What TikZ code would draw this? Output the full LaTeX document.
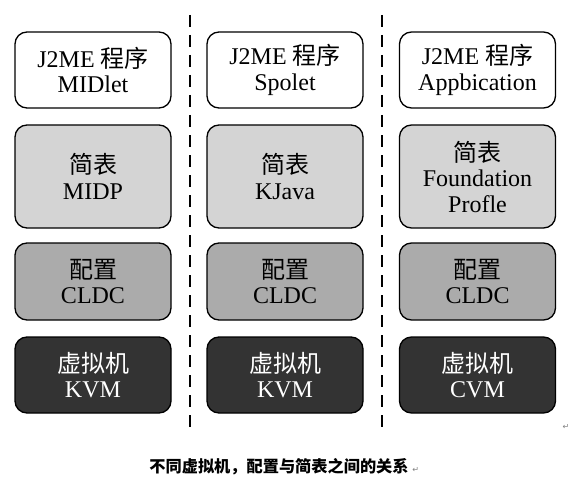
\documentclass[tikz,border=0pt]{standalone}
\usepackage{fontspec}
\setmainfont{Liberation Serif}
\newfontfamily\cjk{Noto Sans CJK SC}
\newfontfamily\symb{DejaVu Sans}
\usepackage{tikz}
\usetikzlibrary{positioning}

\begin{document}
\begin{tikzpicture}[x=1pt, y=-1pt]
        \tikzset{
          layer/.style={draw=black, line width=1.3pt, rounded corners=12pt,
                        minimum width=156pt, inner sep=0pt, align=center,
                        font=\fontsize{24}{25.5}\selectfont},
          app/.style={layer, fill=white, minimum height=76pt},
          profile/.style={layer, fill=black!17, minimum height=103pt},
          config/.style={layer, fill=black!33, minimum height=77pt},
          vm/.style={layer, fill=black!80, text=white, minimum height=76pt},
          divider/.style={line width=1.6pt, dash pattern=on 12pt off 8pt},
          parmark/.style={font=\symb\fontsize{8}{8}\selectfont, text=black!50, inner sep=0pt}
        }
        \useasboundingbox (0,0) rectangle (575,484);
        % Dividers between the columns
        \foreach \d/\x in {1/190, 2/382} {
          \coordinate (T\d) at (\x,15);
          \coordinate (B\d) at (\x,428);
          \draw[divider] (T\d) -- (B\d);
        }
        % Layer stacks
        \foreach \c/\x/\prog/\prof/\vmname in {1/93/MIDlet/MIDP/KVM,
            2/285/Spolet/KJava/KVM, 3/477.5/Appbication/{Foundation\\Profle}/CVM} {
          \node[app] (A\c) at (\x,70) {J2ME {\cjk 程序}\\\prog};
          \node[profile] (P\c) at (\x,176.5) {{\cjk 简表}\\\prof};
          \node[config] (C\c) at (\x,281.5) {{\cjk 配置}\\CLDC};
          \node[vm] (V\c) at (\x,375) {{\cjk 虚拟机}\\\vmname};
        }
        % Caption
        \node[font=\cjk\bfseries\fontsize{16.2}{20}\selectfont] (cap) at (279,467)
          {不同虚拟机，配置与简表之间的关系};
        \node[parmark, right=0pt of cap.base east, anchor=base west] (m1) {↵};
        \node[parmark] (m2) at (566,427) {↵};
      \end{tikzpicture}
\end{document}
